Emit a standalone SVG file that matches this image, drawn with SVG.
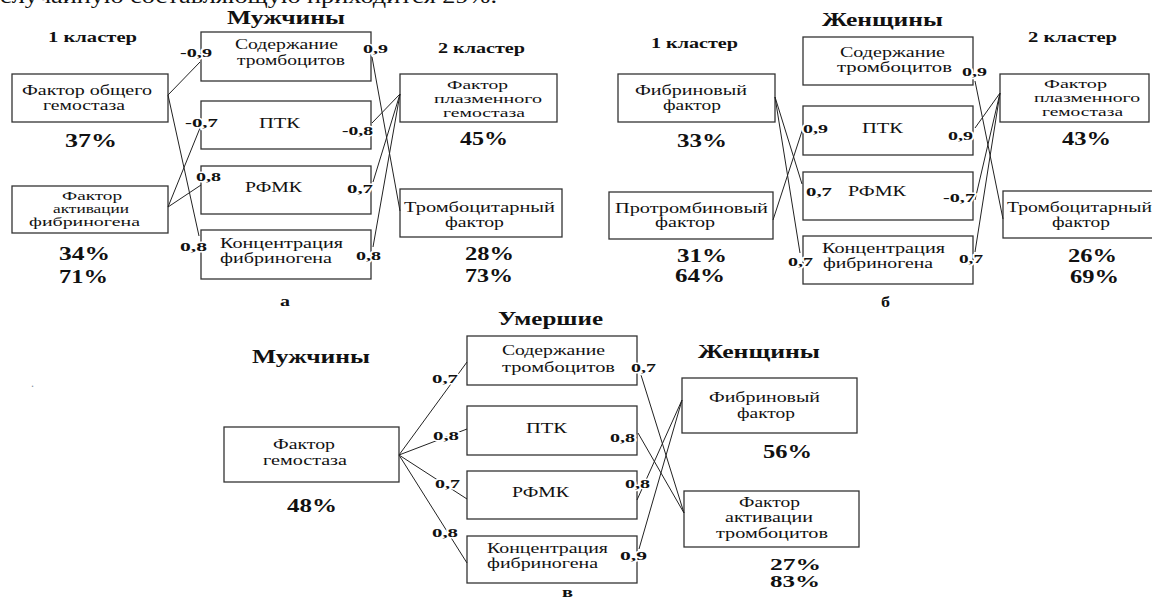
<svg xmlns="http://www.w3.org/2000/svg" width="1152" height="600" viewBox="0 0 1152 600">
<style>
text{font-family:"Liberation Serif","DejaVu Serif","Times New Roman",serif;fill:#111}
.t{font-size:14px}
.t2{font-size:12.5px}
.top{font-size:20px}
.h{font-size:18px;font-weight:bold}
.cl{font-size:15px;font-weight:bold}
.p{font-size:18px;font-weight:bold}
.p2{font-size:16px;font-weight:bold}
.l{font-size:13px;font-weight:bold;stroke:#fff;stroke-width:3;paint-order:stroke;stroke-linejoin:round}
.s{font-size:14px;font-weight:bold}
rect{fill:#fff;stroke:#333;stroke-width:1.3}
line{stroke:#222;stroke-width:1}
</style>
<rect x="0" y="0" width="1152" height="600" style="fill:#fff;stroke:none"/>
<text class="top" x="0" y="3" textLength="497" lengthAdjust="spacingAndGlyphs">случайную составляющую приходится 29%.</text>
<text x="31" y="387" style="font-size:12px;fill:#8a93a0">.</text>

<!-- Panel a -->
<g id="panel-a-titles">
<text class="h" x="227" y="24" textLength="118" lengthAdjust="spacingAndGlyphs">Мужчины</text>
<text class="cl" x="48" y="42" textLength="89" lengthAdjust="spacingAndGlyphs">1 кластер</text>
<text class="cl" x="438" y="53" textLength="87" lengthAdjust="spacingAndGlyphs">2 кластер</text>
<text class="s" x="280" y="306" textLength="10" lengthAdjust="spacingAndGlyphs">а</text>
</g>
<g id="a-general">
<rect x="12" y="74" width="156" height="48"/>
<text class="t" x="22" y="95" textLength="130" lengthAdjust="spacingAndGlyphs">Фактор общего</text>
<text class="t" x="43" y="110" textLength="82" lengthAdjust="spacingAndGlyphs">гемостаза</text>
<text class="p" x="65" y="147" textLength="52" lengthAdjust="spacingAndGlyphs">37%</text>
</g>
<g id="a-fibrinogen-activation">
<rect x="12" y="186" width="156" height="47"/>
<text class="t2" x="62" y="200" textLength="60" lengthAdjust="spacingAndGlyphs">Фактор</text>
<text class="t2" x="53" y="213" textLength="76" lengthAdjust="spacingAndGlyphs">активации</text>
<text class="t2" x="29" y="226" textLength="111" lengthAdjust="spacingAndGlyphs">фибриногена</text>
<text class="p" x="59" y="260" textLength="51" lengthAdjust="spacingAndGlyphs">34%</text>
<text class="p" x="59" y="283" textLength="49" lengthAdjust="spacingAndGlyphs">71%</text>
</g>
<g id="a-platelets">
<rect x="201" y="32" width="170" height="49"/>
<text class="t" x="235" y="49" textLength="103" lengthAdjust="spacingAndGlyphs">Содержание</text>
<text class="t" x="237" y="65" textLength="108" lengthAdjust="spacingAndGlyphs">тромбоцитов</text>
</g>
<g id="a-ptk">
<rect x="201" y="101" width="170" height="48"/>
<text class="t" x="259" y="128" textLength="41" lengthAdjust="spacingAndGlyphs">ПТК</text>
</g>
<g id="a-rfmk">
<rect x="201" y="166" width="170" height="48"/>
<text class="t" x="245" y="192" textLength="57" lengthAdjust="spacingAndGlyphs">РФМК</text>
</g>
<g id="a-fibrinogen">
<rect x="201" y="230" width="170" height="49"/>
<text class="t" x="220" y="248" textLength="123" lengthAdjust="spacingAndGlyphs">Концентрация</text>
<text class="t" x="220" y="263" textLength="112" lengthAdjust="spacingAndGlyphs">фибриногена</text>
</g>
<g id="a-plasma">
<rect x="400" y="74" width="157" height="48"/>
<text class="t2" x="447" y="89" textLength="61" lengthAdjust="spacingAndGlyphs">Фактор</text>
<text class="t2" x="434" y="103" textLength="108" lengthAdjust="spacingAndGlyphs">плазменного</text>
<text class="t2" x="443" y="117" textLength="82" lengthAdjust="spacingAndGlyphs">гемостаза</text>
<text class="p" x="460" y="145" textLength="48" lengthAdjust="spacingAndGlyphs">45%</text>
</g>
<g id="a-thrombocytic">
<rect x="400" y="189" width="162" height="48"/>
<text class="t" x="404" y="212" textLength="151" lengthAdjust="spacingAndGlyphs">Тромбоцитарный</text>
<text class="t" x="445" y="227" textLength="59" lengthAdjust="spacingAndGlyphs">фактор</text>
<text class="p" x="465" y="260" textLength="49" lengthAdjust="spacingAndGlyphs">28%</text>
<text class="p" x="465" y="282" textLength="48" lengthAdjust="spacingAndGlyphs">73%</text>
</g>

<!-- Panel b -->
<g id="panel-b-titles">
<text class="h" x="822" y="26" textLength="121" lengthAdjust="spacingAndGlyphs">Женщины</text>
<text class="cl" x="651" y="48" textLength="87" lengthAdjust="spacingAndGlyphs">1 кластер</text>
<text class="cl" x="1028" y="42" textLength="89" lengthAdjust="spacingAndGlyphs">2 кластер</text>
<text class="s" x="881" y="307" textLength="9" lengthAdjust="spacingAndGlyphs">б</text>
</g>
<g id="b-fibrin">
<rect x="618" y="74" width="157" height="48"/>
<text class="t" x="635" y="95" textLength="112" lengthAdjust="spacingAndGlyphs">Фибриновый</text>
<text class="t" x="663" y="110" textLength="58" lengthAdjust="spacingAndGlyphs">фактор</text>
<text class="p" x="677" y="147" textLength="50" lengthAdjust="spacingAndGlyphs">33%</text>
</g>
<g id="b-prothrombin">
<rect x="609" y="192" width="164" height="47"/>
<text class="t" x="615" y="213" textLength="153" lengthAdjust="spacingAndGlyphs">Протромбиновый</text>
<text class="t" x="655" y="227" textLength="60" lengthAdjust="spacingAndGlyphs">фактор</text>
<text class="p" x="677" y="262" textLength="50" lengthAdjust="spacingAndGlyphs">31%</text>
<text class="p" x="675" y="282" textLength="50" lengthAdjust="spacingAndGlyphs">64%</text>
</g>
<g id="b-platelets">
<rect x="803" y="37" width="170" height="48"/>
<text class="t" x="840" y="57" textLength="105" lengthAdjust="spacingAndGlyphs">Содержание</text>
<text class="t" x="837" y="72" textLength="115" lengthAdjust="spacingAndGlyphs">тромбоцитов</text>
</g>
<g id="b-ptk">
<rect x="803" y="106" width="170" height="49"/>
<text class="t" x="862" y="133" textLength="41" lengthAdjust="spacingAndGlyphs">ПТК</text>
</g>
<g id="b-rfmk">
<rect x="803" y="172" width="170" height="48"/>
<text class="t" x="848" y="196" textLength="58" lengthAdjust="spacingAndGlyphs">РФМК</text>
</g>
<g id="b-fibrinogen">
<rect x="803" y="236" width="170" height="48"/>
<text class="t" x="822" y="253" textLength="123" lengthAdjust="spacingAndGlyphs">Концентрация</text>
<text class="t" x="823" y="268" textLength="110" lengthAdjust="spacingAndGlyphs">фибриногена</text>
</g>
<g id="b-plasma">
<rect x="1000" y="74" width="149" height="48"/>
<text class="t2" x="1044" y="88" textLength="63" lengthAdjust="spacingAndGlyphs">Фактор</text>
<text class="t2" x="1034" y="102" textLength="106" lengthAdjust="spacingAndGlyphs">плазменного</text>
<text class="t2" x="1042" y="116" textLength="81" lengthAdjust="spacingAndGlyphs">гемостаза</text>
<text class="p" x="1062" y="145" textLength="49" lengthAdjust="spacingAndGlyphs">43%</text>
</g>
<g id="b-thrombocytic">
<rect x="1003" y="191" width="152" height="47"/>
<text class="t" x="1007" y="212" textLength="145" lengthAdjust="spacingAndGlyphs">Тромбоцитарный</text>
<text class="t" x="1052" y="227" textLength="58" lengthAdjust="spacingAndGlyphs">фактор</text>
<text class="p" x="1068" y="262" textLength="49" lengthAdjust="spacingAndGlyphs">26%</text>
<text class="p" x="1070" y="283" textLength="49" lengthAdjust="spacingAndGlyphs">69%</text>
</g>

<!-- Panel c -->
<g id="panel-c-titles">
<text class="h" x="498" y="325" textLength="105" lengthAdjust="spacingAndGlyphs">Умершие</text>
<text class="h" x="252" y="363" textLength="118" lengthAdjust="spacingAndGlyphs">Мужчины</text>
<text class="h" x="698" y="358" textLength="122" lengthAdjust="spacingAndGlyphs">Женщины</text>
<text class="s" x="562" y="597" textLength="11" lengthAdjust="spacingAndGlyphs">в</text>
</g>
<g id="c-hemostasis">
<rect x="224" y="427" width="175" height="55"/>
<text class="t" x="273" y="449" textLength="62" lengthAdjust="spacingAndGlyphs">Фактор</text>
<text class="t" x="263" y="465" textLength="84" lengthAdjust="spacingAndGlyphs">гемостаза</text>
<text class="p" x="287" y="512" textLength="50" lengthAdjust="spacingAndGlyphs">48%</text>
</g>
<g id="c-platelets">
<rect x="467" y="336" width="170" height="49"/>
<text class="t" x="502" y="355" textLength="103" lengthAdjust="spacingAndGlyphs">Содержание</text>
<text class="t" x="502" y="372" textLength="113" lengthAdjust="spacingAndGlyphs">тромбоцитов</text>
</g>
<g id="c-ptk">
<rect x="467" y="406" width="170" height="49"/>
<text class="t" x="526" y="433" textLength="41" lengthAdjust="spacingAndGlyphs">ПТК</text>
</g>
<g id="c-rfmk">
<rect x="467" y="471" width="170" height="48"/>
<text class="t" x="512" y="497" textLength="57" lengthAdjust="spacingAndGlyphs">РФМК</text>
</g>
<g id="c-fibrinogen">
<rect x="467" y="536" width="170" height="47"/>
<text class="t" x="487" y="553" textLength="121" lengthAdjust="spacingAndGlyphs">Концентрация</text>
<text class="t" x="487" y="568" textLength="111" lengthAdjust="spacingAndGlyphs">фибриногена</text>
</g>
<g id="c-fibrin">
<rect x="682" y="378" width="175" height="55"/>
<text class="t" x="709" y="402" textLength="111" lengthAdjust="spacingAndGlyphs">Фибриновый</text>
<text class="t" x="737" y="418" textLength="58" lengthAdjust="spacingAndGlyphs">фактор</text>
<text class="p" x="763" y="458" textLength="49" lengthAdjust="spacingAndGlyphs">56%</text>
</g>
<g id="c-platelet-activation">
<rect x="684" y="491" width="175" height="56"/>
<text class="t" x="739" y="507" textLength="61" lengthAdjust="spacingAndGlyphs">Фактор</text>
<text class="t" x="725" y="522" textLength="88" lengthAdjust="spacingAndGlyphs">активации</text>
<text class="t" x="716" y="538" textLength="112" lengthAdjust="spacingAndGlyphs">тромбоцитов</text>
<text class="p2" x="770" y="570" textLength="51" lengthAdjust="spacingAndGlyphs">27%</text>
<text class="p2" x="770" y="587" textLength="50" lengthAdjust="spacingAndGlyphs">83%</text>
</g>

<g id="connectors">
<line x1="168" y1="95" x2="200" y2="62"/>
<line x1="168" y1="95" x2="199" y2="236"/>
<line x1="168" y1="207" x2="200" y2="128"/>
<line x1="168" y1="207" x2="201" y2="185"/>
<line x1="372" y1="57" x2="400" y2="211"/>
<line x1="372" y1="123" x2="400" y2="94"/>
<line x1="373" y1="182" x2="400" y2="94"/>
<line x1="373" y1="247" x2="400" y2="94"/>

<line x1="775" y1="97" x2="802" y2="184"/>
<line x1="775" y1="97" x2="800" y2="253"/>
<line x1="773" y1="220" x2="803" y2="128"/>
<line x1="975" y1="81" x2="1003" y2="219"/>
<line x1="975" y1="128" x2="1000" y2="93"/>
<line x1="975" y1="200" x2="1000" y2="93"/>
<line x1="975" y1="252" x2="1000" y2="93"/>

<line x1="399" y1="455" x2="467" y2="362"/>
<line x1="399" y1="455" x2="467" y2="429"/>
<line x1="399" y1="455" x2="467" y2="499"/>
<line x1="399" y1="455" x2="467" y2="563"/>
<line x1="641" y1="375" x2="684" y2="513"/>
<line x1="638" y1="433" x2="684" y2="513"/>
<line x1="637" y1="500" x2="682" y2="400"/>
<line x1="639" y1="549" x2="682" y2="400"/>

<text class="l" x="180" y="57" textLength="32" lengthAdjust="spacingAndGlyphs">-0,9</text>
<text class="l" x="185" y="127" textLength="33" lengthAdjust="spacingAndGlyphs">-0,7</text>
<text class="l" x="196" y="181" textLength="25" lengthAdjust="spacingAndGlyphs">0,8</text>
<text class="l" x="180" y="251" textLength="27" lengthAdjust="spacingAndGlyphs">0,8</text>
<text class="l" x="363" y="53" textLength="25" lengthAdjust="spacingAndGlyphs">0,9</text>
<text class="l" x="342" y="135" textLength="31" lengthAdjust="spacingAndGlyphs">-0,8</text>
<text class="l" x="347" y="193" textLength="26" lengthAdjust="spacingAndGlyphs">0,7</text>
<text class="l" x="356" y="260" textLength="25" lengthAdjust="spacingAndGlyphs">0,8</text>

<text class="l" x="803" y="133" textLength="25" lengthAdjust="spacingAndGlyphs">0,9</text>
<text class="l" x="806" y="196" textLength="26" lengthAdjust="spacingAndGlyphs">0,7</text>
<text class="l" x="788" y="266" textLength="25" lengthAdjust="spacingAndGlyphs">0,7</text>
<text class="l" x="962" y="76" textLength="25" lengthAdjust="spacingAndGlyphs">0,9</text>
<text class="l" x="948" y="140" textLength="25" lengthAdjust="spacingAndGlyphs">0,9</text>
<text class="l" x="943" y="202" textLength="32" lengthAdjust="spacingAndGlyphs">-0,7</text>
<text class="l" x="959" y="263" textLength="24" lengthAdjust="spacingAndGlyphs">0,7</text>

<text class="l" x="432" y="383" textLength="26" lengthAdjust="spacingAndGlyphs">0,7</text>
<text class="l" x="433" y="440" textLength="26" lengthAdjust="spacingAndGlyphs">0,8</text>
<text class="l" x="435" y="488" textLength="25" lengthAdjust="spacingAndGlyphs">0,7</text>
<text class="l" x="432" y="537" textLength="26" lengthAdjust="spacingAndGlyphs">0,8</text>
<text class="l" x="631" y="372" textLength="25" lengthAdjust="spacingAndGlyphs">0,7</text>
<text class="l" x="610" y="442" textLength="25" lengthAdjust="spacingAndGlyphs">0,8</text>
<text class="l" x="625" y="488" textLength="25" lengthAdjust="spacingAndGlyphs">0,8</text>
<text class="l" x="620" y="560" textLength="27" lengthAdjust="spacingAndGlyphs">0,9</text>
</g>
</svg>
